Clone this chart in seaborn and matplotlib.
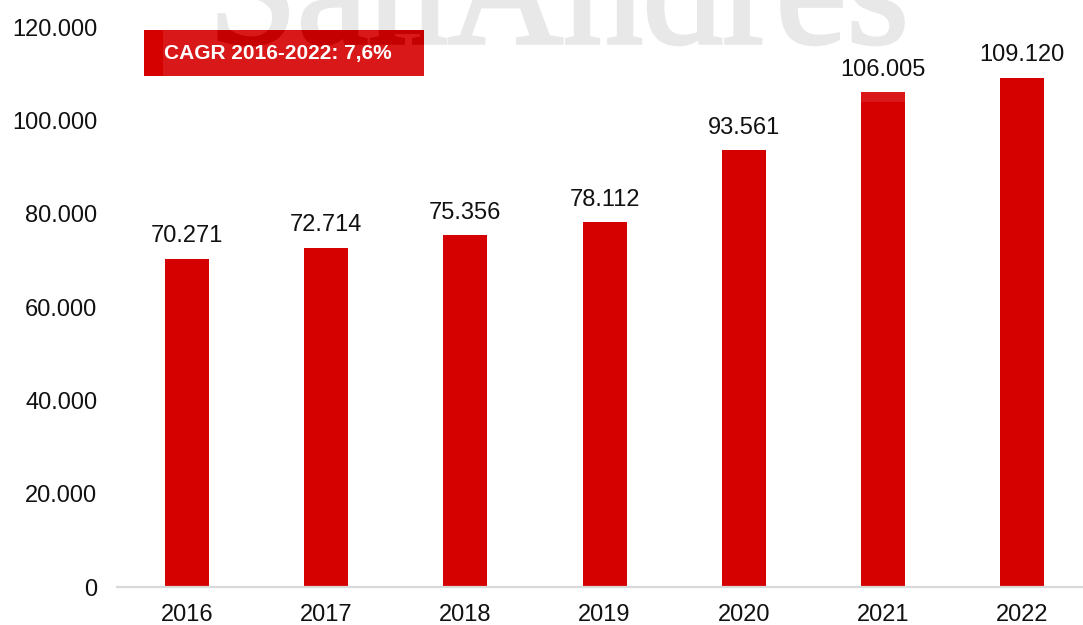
import matplotlib
matplotlib.use("Agg")
import matplotlib.pyplot as plt
import numpy as np
import seaborn as sns
import pandas as pd
from matplotlib.patches import Rectangle, PathPatch
from matplotlib.path import Path
from matplotlib.textpath import TextPath
from matplotlib.transforms import Affine2D, IdentityTransform
from matplotlib.font_manager import FontProperties
from matplotlib.ticker import FuncFormatter, MultipleLocator

# Data
years = ["2016", "2017", "2018", "2019", "2020", "2021", "2022"]
values = [70271, 72714, 75356, 78112, 93561, 106005, 109120]
cagr_label = "CAGR 2016-2022: 7,6%"
watermark = "SanAndres"

W, H, DPI = 1083, 625, 100
BAR_RED = "#D50000"

sns.set_theme(style="white")
plt.rcParams["font.family"] = ["Liberation Sans", "DejaVu Sans"]

fig = plt.figure(figsize=(W / DPI, H / DPI), dpi=DPI)
fig.patch.set_facecolor("white")


def fx(px):
    return px / W


def fy(py):
    return 1 - py / H


def clip_polygon(pts, xmin, ymin, xmax, ymax):
    """Sutherland-Hodgman clipping of one polygon to a rectangle."""
    def run(points, inside, cross):
        out = []
        for i in range(len(points)):
            cur, prev = points[i], points[i - 1]
            if inside(cur):
                if not inside(prev):
                    out.append(cross(prev, cur))
                out.append(cur)
            elif inside(prev):
                out.append(cross(prev, cur))
        return out

    def at_x(c):
        def f(p, q):
            t = (c - p[0]) / (q[0] - p[0])
            return (c, p[1] + t * (q[1] - p[1]))
        return f

    def at_y(c):
        def f(p, q):
            t = (c - p[1]) / (q[1] - p[1])
            return (p[0] + t * (q[0] - p[0]), c)
        return f

    pts = [tuple(p) for p in pts]
    for inside, cross in [
        (lambda p: p[0] >= xmin, at_x(xmin)),
        (lambda p: p[0] <= xmax, at_x(xmax)),
        (lambda p: p[1] >= ymin, at_y(ymin)),
        (lambda p: p[1] <= ymax, at_y(ymax)),
    ]:
        if not pts:
            break
        pts = run(pts, inside, cross)
    return pts


# axes span from the first category band to just past the right edge
ax = fig.add_axes([fx(117.4), fy(587), fx(974.4), 560 / H])
ax.set_facecolor("white")

df = pd.DataFrame({"year": years, "value": values})
sns.barplot(data=df, x="year", y="value", color=BAR_RED, saturation=1,
            width=0.316, ax=ax, zorder=2, edgecolor="none")

ax.set_xlim(-0.5, len(years) - 0.5)
ax.set_ylim(0, 120000)
ax.yaxis.set_major_locator(MultipleLocator(20000))
ax.yaxis.set_major_formatter(FuncFormatter(lambda v, p: f"{v:,.0f}".replace(",", ".")))
ax.set_xlabel("")
ax.set_ylabel("")

for s in ["top", "right", "left"]:
    ax.spines[s].set_visible(False)
ax.spines["bottom"].set_color("#D9D9D9")
ax.spines["bottom"].set_linewidth(1.6)
ax.tick_params(axis="both", length=0, labelsize=17, colors="#111111")
ax.tick_params(axis="y", pad=14.4)
ax.tick_params(axis="x", pad=12.5)
ax.grid(False)

# value labels above each bar
for i, v in enumerate(values):
    ax.annotate(f"{v:,.0f}".replace(",", "."), xy=(i, v), xytext=(0, 12),
                textcoords="offset points", ha="center", va="baseline",
                fontsize=17, color="#111111", zorder=6)

# CAGR badge (pixel box: x 144-424, y 30-76 from the top)
BADGE = (144, 30, 424, 76)
ax.add_patch(Rectangle((fx(BADGE[0]), fy(BADGE[3])), fx(BADGE[2] - BADGE[0]),
                       (BADGE[3] - BADGE[1]) / H, transform=fig.transFigure,
                       facecolor=BAR_RED, edgecolor="none", clip_on=False,
                       zorder=2.5))

# watermark panel
ax.add_patch(Rectangle((fx(163), fy(102)), fx(747), 102 / H,
                       transform=fig.transFigure, facecolor="white",
                       alpha=0.1, edgecolor="none", clip_on=False, zorder=3))

# watermark lettering as outlines, placed in pixel space
fp = FontProperties(family="Liberation Serif")
ext100 = TextPath((0, 0), watermark, size=100, prop=fp).get_extents()
em_px = 100 * 684 / ext100.width
wm_path = TextPath((0, 0), watermark, size=em_px, prop=fp)
x0 = wm_path.get_extents().x0
wm_tr = Affine2D().translate(219 - x0, H - 43)
STROKE = 2.5  # points, thickens the serif strokes

ax.add_patch(PathPatch(wm_path, transform=wm_tr, facecolor="#E6E6E6",
                       edgecolor="#E6E6E6", linewidth=STROKE,
                       clip_on=False, zorder=1))

# darker lettering where the watermark crosses the badge
half = STROKE * DPI / 72 / 2
cx0, cx1 = BADGE[0] + half, BADGE[2] - half
cy0, cy1 = H - BADGE[3] + half, H - BADGE[1] - half
pieces = []
for poly in wm_tr.transform_path(wm_path).to_polygons(closed_only=True):
    pts = poly[:-1] if np.allclose(poly[0], poly[-1]) else poly
    cut = clip_polygon(pts, cx0, cy0, cx1, cy1)
    if len(cut) >= 3:
        verts = np.array(cut + [cut[0]], dtype=float)
        pieces.append(Path(verts, closed=True))
if pieces:
    ax.add_patch(PathPatch(Path.make_compound_path(*pieces),
                           transform=IdentityTransform(), facecolor="#C40000",
                           edgecolor="#C40000", linewidth=STROKE,
                           clip_on=False, zorder=3.5))

ax.text(fx(164), fy(53), cagr_label, transform=fig.transFigure,
        ha="left", va="center", fontsize=15, fontweight="bold",
        color="white", clip_on=False, zorder=4.5)

fig.savefig("out.png", dpi=DPI, facecolor="white")
